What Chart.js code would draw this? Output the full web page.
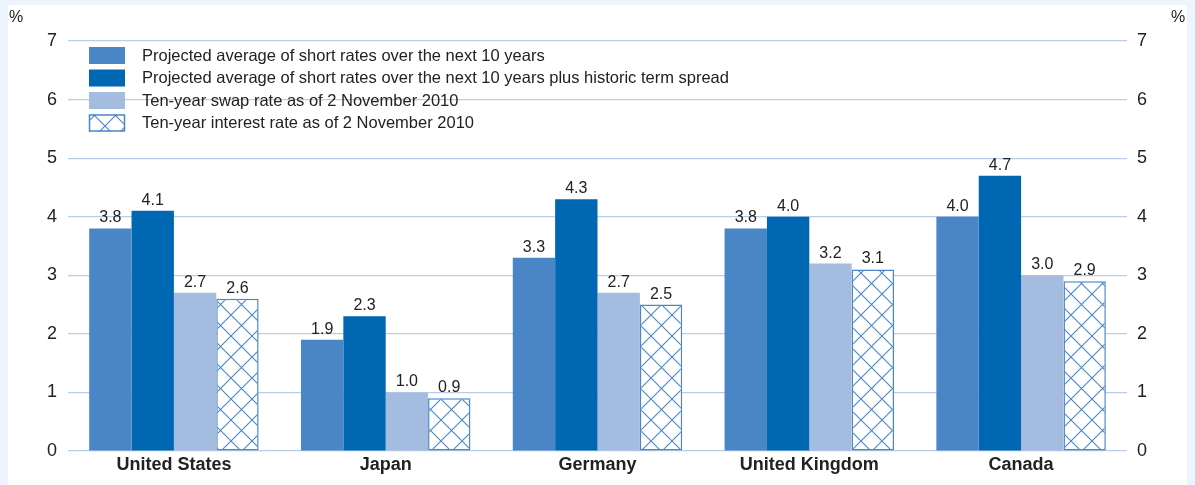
<!DOCTYPE html>
<html>
<head>
<meta charset="utf-8">
<script src="https://cdn.jsdelivr.net/npm/chart.js@4/dist/chart.umd.min.js"></script>
<style>
  html, body { margin: 0; padding: 0; background: #edf4fd; }
  #wrap { width: 1195px; height: 485px; position: relative; }
</style>
</head>
<body>
<div id="wrap"><canvas id="c" width="1195" height="485"></canvas></div>
<script>
const categories = ['United States', 'Japan', 'Germany', 'United Kingdom', 'Canada'];
const seriesNames = [
  'Projected average of short rates over the next 10 years',
  'Projected average of short rates over the next 10 years plus historic term spread',
  'Ten-year swap rate as of 2 November 2010',
  'Ten-year interest rate as of 2 November 2010'
];
const shortRates = [3.8, 1.9, 3.3, 3.8, 4.0];
const shortRatesPlusSpread = [4.1, 2.3, 4.3, 4.0, 4.7];
const swapRates = [2.7, 1.0, 2.7, 3.2, 3.0];
const interestRates = [2.6, 0.9, 2.5, 3.1, 2.9];
const yTicks = [0, 1, 2, 3, 4, 5, 6, 7];

const FONT = '"Liberation Sans", Arial, Helvetica, sans-serif';
const C1 = '#4a85c5', C2 = '#0067b2', C3 = '#a3bce0', HATCH = '#4a86c8';

function makeHatch() {
  const p = document.createElement('canvas');
  p.width = 21; p.height = 21;
  const g = p.getContext('2d');
  g.fillStyle = '#ffffff';
  g.fillRect(0, 0, 21, 21);
  g.strokeStyle = HATCH;
  g.lineWidth = 1.1;
  g.beginPath();
  g.moveTo(-2, -2); g.lineTo(23, 23);
  g.moveTo(23, -2); g.lineTo(-2, 23);
  g.stroke();
  return g.createPattern(p, 'repeat');
}
const ctx0 = document.getElementById('c').getContext('2d');
const hatch = makeHatch();

const panelPlugin = {
  id: 'panel',
  beforeDraw(chart) {
    const g = chart.ctx;
    g.save();
    g.fillStyle = '#edf4fd';
    g.fillRect(0, 0, chart.width, chart.height);
    g.fillStyle = '#ffffff';
    g.fillRect(8, 5, 1179, 480);
    g.restore();
  },
  afterDraw(chart) {
    const g = chart.ctx;
    g.save();
    g.fillStyle = '#222';
    g.font = '16px ' + FONT;
    g.textBaseline = 'middle';
    g.textAlign = 'left';
    g.fillText('%', 9, 18);
    g.fillText('%', 1171, 18);
    // legend
    const fills = [C1, C2, C3, hatch];
    const x = 89, w = 36, h = 17;
    g.font = '16.5px ' + FONT;
    for (let i = 0; i < seriesNames.length; i++) {
      const top = 47 + i * 22.5;
      g.fillStyle = fills[i];
      g.fillRect(x, top, w, h);
      if (i === 3) {
        g.strokeStyle = HATCH; g.lineWidth = 1.5;
        g.strokeRect(x + 0.5, top + 0.5, w - 1, h - 1);
      }
      g.fillStyle = '#222';
      g.fillText(seriesNames[i], 142, top + h / 2 + 0.5);
    }
    g.restore();
  }
};

const valueLabels = {
  id: 'valueLabels',
  afterDatasetsDraw(chart) {
    const g = chart.ctx;
    g.save();
    g.font = '16px ' + FONT;
    g.fillStyle = '#222';
    g.textAlign = 'center';
    g.textBaseline = 'alphabetic';
    chart.data.datasets.forEach((ds, di) => {
      const meta = chart.getDatasetMeta(di);
      meta.data.forEach((bar, i) => {
        g.fillText(ds.data[i].toFixed(1), bar.x, bar.y - 6);
      });
    });
    g.restore();
  }
};

new Chart(ctx0, {
  type: 'bar',
  data: {
    labels: categories,
    datasets: [
      { label: seriesNames[0], data: shortRates, backgroundColor: C1 },
      { label: seriesNames[1], data: shortRatesPlusSpread, backgroundColor: C2 },
      { label: seriesNames[2], data: swapRates, backgroundColor: C3 },
      { label: seriesNames[3], data: interestRates, backgroundColor: hatch,
        borderColor: HATCH, borderWidth: 1.5, borderSkipped: false }
    ]
  },
  options: {
    responsive: false,
    animation: false,
    layout: { padding: { top: 41, left: 0, right: 0, bottom: 0 } },
    datasets: { bar: { categoryPercentage: 0.8, barPercentage: 1.0 } },
    plugins: { legend: { display: false }, tooltip: { enabled: false } },
    scales: {
      x: {
        grid: { display: false, drawTicks: false },
        border: { display: false },
        ticks: { color: '#222', font: { family: FONT, size: 18, weight: 'bold' }, padding: 3, maxRotation: 0 },
        afterFit(s) { s.height = 34; }
      },
      y: {
        position: 'left',
        min: 0, max: 7,
        afterBuildTicks(s) { s.ticks = yTicks.map(v => ({ value: v })); },
        grid: { color: '#b9cde9', lineWidth: 1.2, drawTicks: false },
        border: { display: false },
        ticks: { color: '#222', font: { family: FONT, size: 18 }, padding: 11 },
        afterFit(s) { s.width = 68; }
      },
      y2: {
        position: 'right',
        min: 0, max: 7,
        afterBuildTicks(s) { s.ticks = yTicks.map(v => ({ value: v })); },
        grid: { display: false, drawTicks: false },
        border: { display: false },
        ticks: { color: '#222', font: { family: FONT, size: 18 }, padding: 10 },
        afterFit(s) { s.width = 68; }
      }
    }
  },
  plugins: [panelPlugin, valueLabels]
});
</script>
</body>
</html>
